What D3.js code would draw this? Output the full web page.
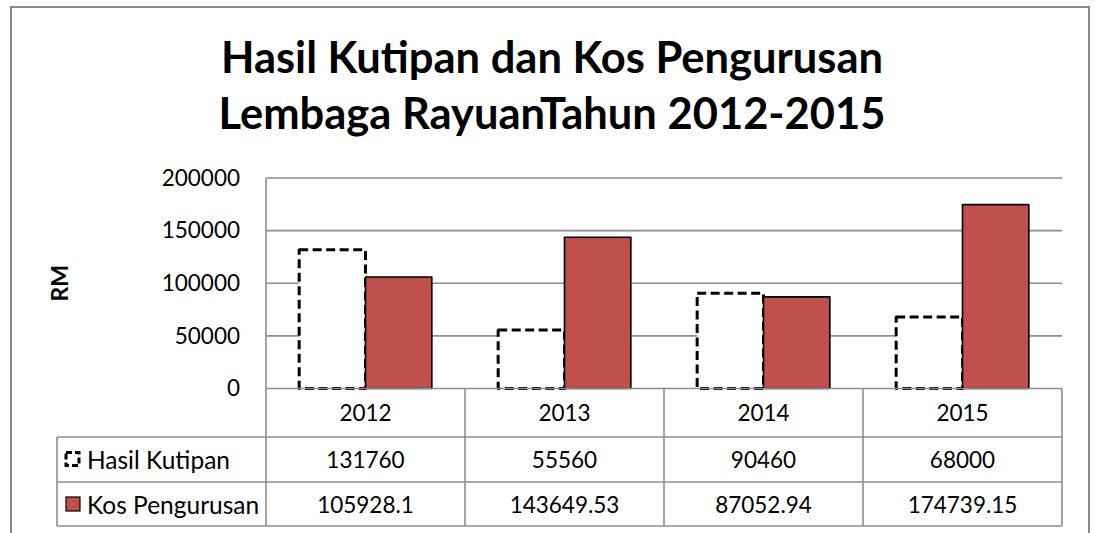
<!DOCTYPE html>
<html>
<head>
<meta charset="utf-8">
<script src="https://cdn.jsdelivr.net/npm/d3@7"></script>
<style>
  html, body { margin: 0; padding: 0; background: #fff; }
  svg { display: block; }
  text { font-family: Lato, "Open Sans", sans-serif; fill: #000; }
</style>
</head>
<body>
<svg id="chart" width="1095" height="533"></svg>
<script>
// ---- data ----
const categories = ["2012", "2013", "2014", "2015"];
const seriesNames = ["Hasil Kutipan", "Kos Pengurusan"];
const hasilKutipan = [131760, 55560, 90460, 68000];
const kosPengurusan = [105928.1, 143649.53, 87052.94, 174739.15];
const yTicks = [0, 50000, 100000, 150000, 200000];
const titleLines = ["Hasil Kutipan dan Kos Pengurusan", "Lembaga RayuanTahun 2012-2015"];
const yAxisTitle = "RM";

// ---- layout ----
const svg = d3.select("#chart");
const W = 1095, H = 533;
const plot = { left: 266, right: 1062, top: 178, bottom: 388.5 };
const table = { left: 57, rowLines: [388.5, 437, 482, 526] };
const gridColor = "#8e8e8e";

svg.append("rect").attr("x", 0).attr("y", 0).attr("width", W).attr("height", H).attr("fill", "#fff");
// outer chart border (bottom is outside the picture)
svg.append("rect").attr("x", 11).attr("y", 7).attr("width", 1078).attr("height", 560)
  .attr("fill", "none").attr("stroke", "#8a8a8a").attr("stroke-width", 2);

// title
const title = svg.append("text").attr("text-anchor", "middle")
  .style("font-weight", "bold").style("font-size", "43.5px");
titleLines.forEach((t, i) => {
  title.append("tspan").attr("x", 552).attr("y", 73 + i * 56).text(t);
});

// scales
const x0 = d3.scaleBand().domain(categories).range([plot.left, plot.right]).paddingInner(0).paddingOuter(0);
const bw = x0.bandwidth();
const x1 = d3.scaleBand().domain(seriesNames).range([bw / 6, bw * 5 / 6]).padding(0);
const y = d3.scaleLinear().domain([0, 200000]).range([plot.bottom, plot.top]);

// gridlines
svg.append("g").selectAll("line").data(yTicks.filter(d => d > 0)).join("line")
  .attr("x1", plot.left).attr("x2", plot.right)
  .attr("y1", d => y(d)).attr("y2", d => y(d))
  .attr("stroke", gridColor).attr("stroke-width", 1.6);

// y axis labels via d3 axis
const yAxis = svg.append("g").attr("transform", `translate(${plot.left - 26},0)`)
  .call(d3.axisLeft(y).tickValues(yTicks).tickFormat(d3.format("d")).tickSize(0).tickPadding(0));
yAxis.select(".domain").remove();
yAxis.selectAll("text").style("font-family", "Lato, sans-serif").style("font-size", "22.5px").attr("fill", "#000");

// y axis title
svg.append("text").attr("transform", `translate(68,${(plot.top + plot.bottom) / 2}) rotate(-90)`)
  .attr("text-anchor", "middle").style("font-weight", "bold").style("font-size", "23px").text(yAxisTitle);

// bars
const data = categories.map((c, i) => ({ cat: c, vals: [
  { name: seriesNames[0], v: hasilKutipan[i] },
  { name: seriesNames[1], v: kosPengurusan[i] } ] }));

const groups = svg.append("g").selectAll("g").data(data).join("g")
  .attr("transform", d => `translate(${x0(d.cat)},0)`);

groups.selectAll("rect").data(d => d.vals).join("rect")
  .attr("x", d => x1(d.name))
  .attr("y", d => y(d.v))
  .attr("width", x1.bandwidth())
  .attr("height", d => y(0) - y(d.v))
  .attr("fill", d => d.name === seriesNames[0] ? "#fff" : "#C0504D")
  .attr("stroke", "#000")
  .attr("stroke-width", d => d.name === seriesNames[0] ? 3 : 1.6)
  .attr("stroke-dasharray", d => d.name === seriesNames[0] ? "9,4.5" : null)
  .attr("stroke-linejoin", "round");

// data table lines
const tl = svg.append("g").attr("stroke", gridColor).attr("stroke-width", 1.6);
tl.append("line").attr("x1", plot.left).attr("x2", plot.right).attr("y1", table.rowLines[0]).attr("y2", table.rowLines[0]);
table.rowLines.slice(1).forEach(yy => {
  tl.append("line").attr("x1", table.left).attr("x2", plot.right).attr("y1", yy).attr("y2", yy);
});
tl.append("line").attr("x1", plot.left).attr("x2", plot.left).attr("y1", plot.top).attr("y2", table.rowLines[3]);
tl.append("line").attr("x1", table.left).attr("x2", table.left).attr("y1", table.rowLines[1]).attr("y2", table.rowLines[3]);
categories.forEach((c, i) => {
  const xx = x0(c) + bw;
  tl.append("line").attr("x1", xx).attr("x2", xx).attr("y1", table.rowLines[0]).attr("y2", table.rowLines[3]);
});

const rowMid = i => (table.rowLines[i] + table.rowLines[i + 1]) / 2;
const cellFont = "22.5px";

// header: categories
svg.append("g").selectAll("text").data(categories).join("text")
  .attr("x", d => x0(d) + bw / 2).attr("y", rowMid(0))
  .attr("text-anchor", "middle").attr("dominant-baseline", "central")
  .style("font-size", cellFont).text(d => d);

// rows
[hasilKutipan, kosPengurusan].forEach((vals, r) => {
  svg.append("g").selectAll("text").data(vals).join("text")
    .attr("x", (d, i) => x0(categories[i]) + bw / 2).attr("y", rowMid(r + 1))
    .attr("text-anchor", "middle").attr("dominant-baseline", "central")
    .style("font-size", cellFont).text(d => String(d));
  svg.append("text").attr("x", 87).attr("y", rowMid(r + 1))
    .attr("dominant-baseline", "central").style("font-size", "24.5px").text(seriesNames[r]);
});

// legend keys
svg.append("rect").attr("x", 66).attr("y", rowMid(1) - 7).attr("width", 13).attr("height", 13)
  .attr("fill", "#fff").attr("stroke", "#000").attr("stroke-width", 3).attr("stroke-dasharray", "6,3");
svg.append("rect").attr("x", 66).attr("y", rowMid(2) - 7).attr("width", 14).attr("height", 14)
  .attr("fill", "#C0504D").attr("stroke", "#000").attr("stroke-width", 1.2);
</script>
</body>
</html>
